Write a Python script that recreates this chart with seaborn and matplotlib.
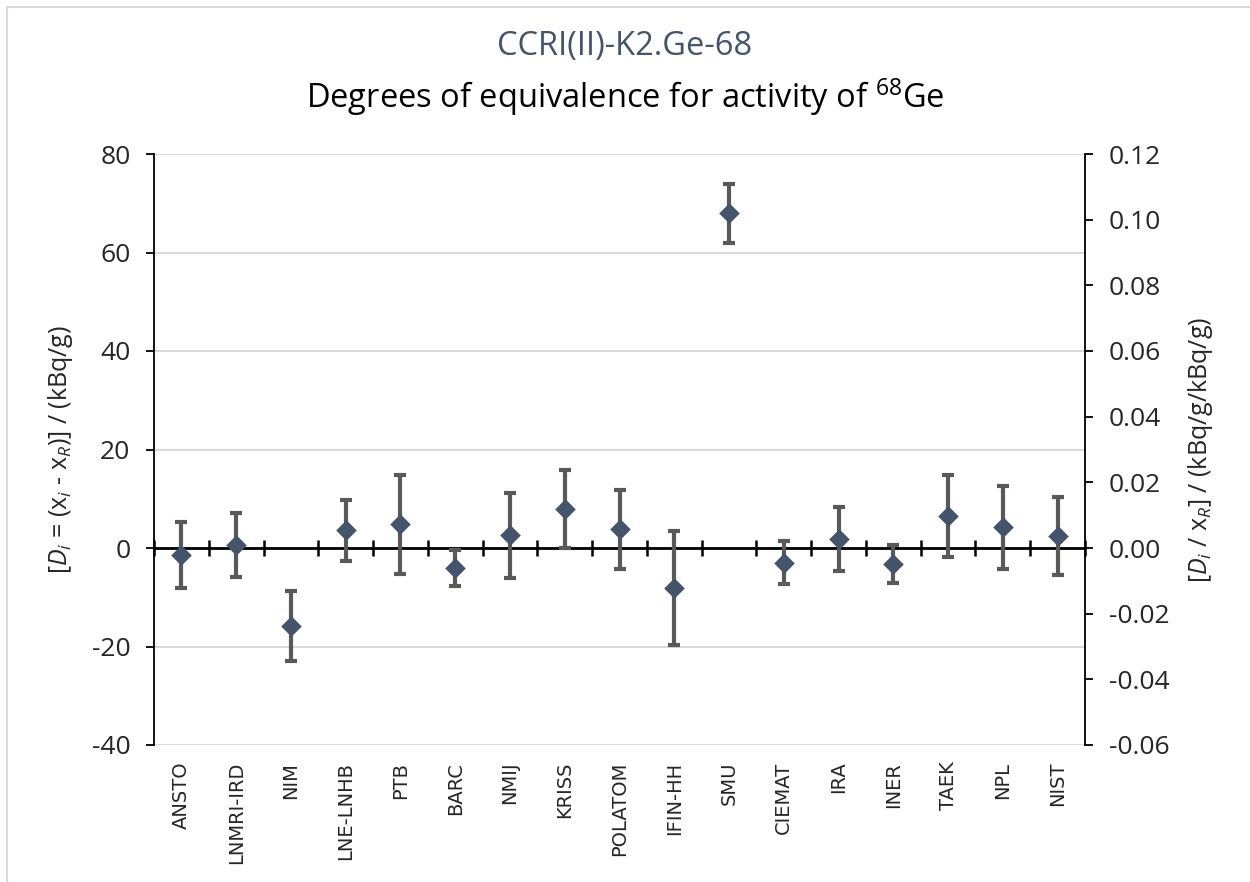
import numpy as np
import pandas as pd
import matplotlib
matplotlib.use('Agg')
import matplotlib.pyplot as plt
import seaborn as sns
from matplotlib.patches import Rectangle
from matplotlib.ticker import FuncFormatter

# Labs in order along the category axis
labs = ['ANSTO', 'LNMRI-IRD', 'NIM', 'LNE-LNHB', 'PTB', 'BARC', 'NMIJ', 'KRISS',
        'POLATOM', 'IFIN-HH', 'SMU', 'CIEMAT', 'IRA', 'INER', 'TAEK', 'NPL', 'NIST']

# Degrees of equivalence D_i / (kBq/g) and expanded uncertainty U_i
d_values = [-1.4, 0.7, -15.8, 3.6, 4.8, -4.1, 2.6, 7.9,
            3.8, -8.1, 68.0, -3.0, 1.8, -3.3, 6.5, 4.2, 2.5]
u_values = [6.7, 6.5, 7.1, 6.2, 10.1, 3.6, 8.6, 7.9,
            8.0, 11.5, 6.0, 4.4, 6.5, 3.9, 8.3, 8.4, 7.9]

left_ticks = [-40, -20, 0, 20, 40, 60, 80]
right_ticks = [-0.06, -0.04, -0.02, 0.00, 0.02, 0.04, 0.06, 0.08, 0.10, 0.12]

df = pd.DataFrame({'lab': labs, 'D': d_values, 'U': u_values})
df['pos'] = np.arange(len(df))

sns.set_theme(style='white')
plt.rcParams['font.family'] = ['Open Sans', 'DejaVu Sans']
plt.rcParams['axes.unicode_minus'] = False
plt.rcParams['mathtext.fontset'] = 'custom'
plt.rcParams['mathtext.rm'] = 'Open Sans'
plt.rcParams['mathtext.it'] = 'Open Sans:italic'

fig = plt.figure(figsize=(12.5, 8.82), dpi=100)
ax = fig.add_axes([154 / 1250, 1 - 745 / 882, (1085 - 154) / 1250, (745 - 154) / 882])

# gridlines
ax.set_ylim(left_ticks[0], left_ticks[-1])
ax.set_xlim(-0.5, len(labs) - 0.5)
ax.set_yticks(left_ticks)
ax.yaxis.grid(True, color='#D9D9D9', linewidth=1.5)
ax.xaxis.grid(False)
ax.set_axisbelow(True)

# error bars and diamonds
ax.errorbar(df['pos'], df['D'], yerr=df['U'], fmt='none', ecolor='#595959',
            elinewidth=3, capsize=4.5, capthick=3, zorder=3)
sns.scatterplot(data=df, x='pos', y='D', marker='D', s=110, color='#44546A',
                linewidth=0, zorder=4, ax=ax, legend=False)

# category labels at the bottom
ax.set_xticks(df['pos'])
ax.set_xticklabels(labs, rotation=90, fontsize=14, family='DejaVu Sans')
ax.tick_params(axis='x', length=0, pad=12)
ax.tick_params(axis='y', direction='out', length=6, width=1.3, color='black',
               labelsize=19, pad=11, left=True)
for s in ['top', 'bottom']:
    ax.spines[s].set_visible(False)
ax.spines['left'].set_color('black')
ax.spines['left'].set_linewidth(1.3)
ax.spines['right'].set_visible(False)
ax.set_xlabel('')
ax.set_ylabel(r'[$D_i$ = (x$_i$ - x$_R$)] / (kBq/g)', fontsize=18, labelpad=12)

# zero axis crossing the plot with tick marks between categories
y0, y1 = ax.get_ylim()
zero_ax = ax.secondary_xaxis((0 - y0) / (y1 - y0))
zero_ax.set_xticks(np.arange(-0.5, len(labs), 1.0))
zero_ax.set_xticklabels([])
zero_ax.tick_params(direction='inout', length=12, width=1.8, color='black')
zero_ax.spines['bottom'].set_linewidth(2)
zero_ax.spines['bottom'].set_color('black')
zero_ax.set_zorder(2)

# right axis, relative degrees of equivalence
ax2 = ax.twinx()
ax2.set_ylim(right_ticks[0], right_ticks[-1])
ax2.set_yticks(right_ticks)
ax2.yaxis.set_major_formatter(FuncFormatter(lambda v, p: f'{v:.2f}'))
ax2.grid(False)
for s in ['top', 'bottom', 'left']:
    ax2.spines[s].set_visible(False)
ax2.spines['right'].set_color('black')
ax2.spines['right'].set_linewidth(1.3)
ax2.tick_params(axis='y', direction='out', length=6, width=1.3, color='black',
                labelsize=19, pad=11, right=True)
ax2.set_ylabel(r'[$D_i$ / x$_R$] / (kBq/g/kBq/g)', fontsize=18, labelpad=12)

# titles
fig.text(0.5, 1 - 46 / 882, 'CCRI(II)-K2.Ge-68', ha='center', va='center',
         fontsize=23.5, color='#44546A')
fig.text(0.5, 1 - 97 / 882, r'Degrees of equivalence for activity of $^{68}$Ge',
         ha='center', va='center', fontsize=23.5, color='black')

# chart frame
fig.patches.append(Rectangle((7 / 1250, -0.5), 2, 1.5 - 7 / 882, transform=fig.transFigure,
                             fill=False, edgecolor='#D9D9D9', linewidth=1.5))

fig.savefig('out.png', dpi=100)
